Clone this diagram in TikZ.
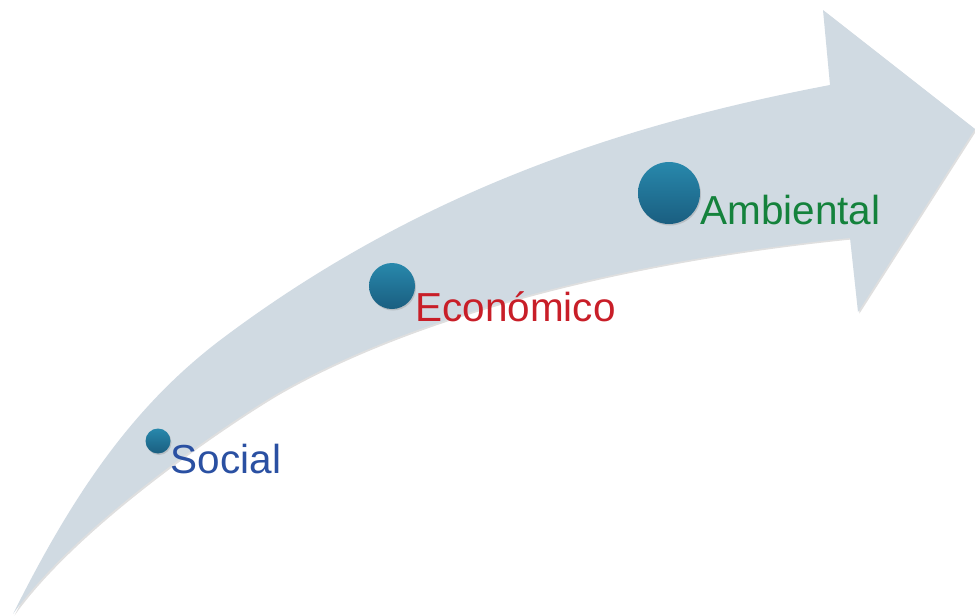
\documentclass[tikz,border=0pt]{standalone}
\usepackage{fontspec}
\setmainfont{Liberation Sans}
\usetikzlibrary{shadows}
\definecolor{arrowgray}{RGB}{208,218,226}
\definecolor{balltop}{RGB}{40,136,172}
\definecolor{ballbot}{RGB}{26,94,128}
\definecolor{socialblue}{RGB}{42,80,162}
\definecolor{ecored}{RGB}{200,30,40}
\definecolor{ambgreen}{RGB}{20,130,60}

\begin{document}
\begin{tikzpicture}[x=1pt, y=-1pt,
ball/.style = {circle, inner sep=0, minimum size=#1, top color=balltop, bottom color=ballbot,
  drop shadow={opacity=0.3, shadow xshift=1pt, shadow yshift=-1.5pt}},
tag/.style = {anchor=base west, inner sep=0, font=\fontsize{40.5}{41}\selectfont}]
\useasboundingbox (0,0) rectangle (975,616);
% big curved arrow
\fill[arrowgray, drop shadow={opacity=0.25, shadow xshift=1.5pt, shadow yshift=-1.5pt}]
  (13,614) .. controls (73,494) and (133,405.5) .. (223,338)
  .. controls (423,188) and (630,123) .. (830,85)
  -- (823,10) -- (975,129) -- (858,312) -- (850,238)
  .. controls (650,258) and (430,307) .. (280,392)
  .. controls (250,409) and (83,516) .. (13,614) -- cycle;
% steps
\node[ball=25pt] (social) at (158,441) {};
\node[tag, socialblue] (socialtxt) at ([yshift=-32pt]social.east) {Social};
\node[ball=46pt] (eco) at (392,286) {};
\node[tag, ecored] (ecotxt) at ([yshift=-35pt]eco.east) {Económico};
\node[ball=62pt] (amb) at (669,193) {};
\node[tag, ambgreen] (ambtxt) at ([yshift=-31pt]amb.east) {Ambiental};
\end{tikzpicture}
\end{document}
